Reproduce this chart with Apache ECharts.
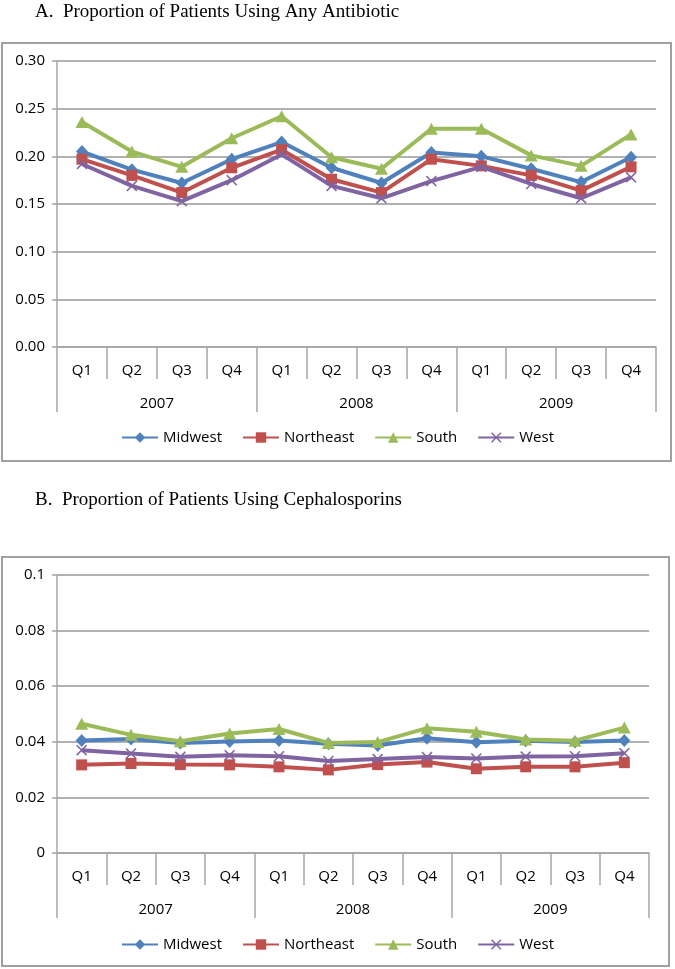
<!DOCTYPE html>
<html>
<head>
<meta charset="utf-8">
<script src="https://cdn.jsdelivr.net/npm/echarts@6/dist/echarts.min.js"></script>
<style>
html,body{margin:0;padding:0;background:#fff;}
#c{width:675px;height:969px;}
</style>
</head>
<body>
<div id="c"></div>
<script>
var quarters = ['Q1','Q2','Q3','Q4','Q1','Q2','Q3','Q4','Q1','Q2','Q3','Q4'];
var years = ['2007','2008','2009'];
var regions = ['Midwest','Northeast','South','West'];

// Panel A: Proportion of patients using any antibiotic
var antiMidwest   = [0.205,0.186,0.172,0.197,0.215,0.188,0.172,0.204,0.200,0.187,0.173,0.199];
var antiNortheast = [0.197,0.180,0.162,0.188,0.207,0.176,0.162,0.197,0.190,0.180,0.164,0.189];
var antiSouth     = [0.236,0.205,0.189,0.219,0.242,0.199,0.187,0.229,0.229,0.201,0.190,0.223];
var antiWest      = [0.192,0.169,0.153,0.175,0.202,0.169,0.156,0.174,0.189,0.171,0.156,0.178];

// Panel B: Proportion of patients using cephalosporins
var cephMidwest   = [0.0405,0.0410,0.0396,0.0401,0.0405,0.0393,0.0387,0.0413,0.0398,0.0404,0.0399,0.0405];
var cephNortheast = [0.0317,0.0322,0.0318,0.0317,0.0310,0.0299,0.0318,0.0327,0.0303,0.0310,0.0310,0.0325];
var cephSouth     = [0.0465,0.0425,0.0402,0.0430,0.0446,0.0396,0.0399,0.0449,0.0436,0.0408,0.0404,0.0451];
var cephWest      = [0.0370,0.0358,0.0346,0.0352,0.0348,0.0331,0.0338,0.0345,0.0340,0.0347,0.0348,0.0359];

var titleA = 'A.  Proportion of Patients Using Any Antibiotic';
var titleB = 'B.  Proportion of Patients Using Cephalosporins';

var colors = ['#4F81BD','#C0504D','#9BBB59','#8064A2'];
var xPath = 'path://M1,0 L5,4 L9,0 L10,1 L6,5 L10,9 L9,10 L5,6 L1,10 L0,9 L4,5 L0,1 Z';
var symbols = ['diamond','rect','triangle',xPath];
var symSizes = [[12,13],[11,11],[13,12],[11,11]];
var FONT = 'Open Sans';
var GRAY = '#a6a6a6';
var GRID = '#979797';

var chart = echarts.init(document.getElementById('c'), null, {renderer:'canvas'});

function xAxesFor(gi){
  return [
    {type:'category', gridIndex:gi, data:quarters, boundaryGap:true,
     axisLine:{show:true,lineStyle:{color:GRAY,width:1.5}},
     axisTick:{show:true,interval:0,length:32,lineStyle:{color:GRAY,width:1.5}},
     axisLabel:{interval:0,margin:16,color:'#000',fontFamily:FONT,fontSize:15}},
    {type:'category', gridIndex:gi, data:years, boundaryGap:true, position:'bottom',
     axisLine:{show:false},
     axisTick:{show:true,interval:0,length:65,lineStyle:{color:GRAY,width:1.5}},
     axisLabel:{interval:0,margin:49,color:'#000',fontFamily:FONT,fontSize:15}}
  ];
}

function seriesFor(gi, arrs){
  return arrs.map(function(d,i){
    return {
      name:regions[i] + (gi ? ' ' : ''), type:'line', xAxisIndex:gi*2, yAxisIndex:gi, data:d,
      symbol:symbols[i], symbolSize:symSizes[i], showSymbol:true,
      lineStyle:{color:colors[i],width:4},
      itemStyle:{color:colors[i]},
      z: 2 + i,
      animation:false
    };
  });
}

var legendBase = {left:'center',itemWidth:36,itemHeight:13,itemGap:20,
  textStyle:{fontFamily:FONT,fontSize:15,color:'#000'},
  formatter:function(n){return n.trim();}};

var option = {
  animation:false,
  backgroundColor:'#fff',
  title:[
    {text:titleA,left:30,top:-2,textStyle:{fontFamily:'Liberation Serif',fontSize:19,fontWeight:'normal',color:'#000'}},
    {text:titleB,left:30,top:486,textStyle:{fontFamily:'Liberation Serif',fontSize:19,fontWeight:'normal',color:'#000'}}
  ],
  graphic:[
    {type:'rect',shape:{x:2,y:43,width:669,height:418},style:{fill:'none',stroke:'#a0a0a0',lineWidth:2},silent:true,z:-1},
    {type:'rect',shape:{x:2,y:557,width:667,height:409},style:{fill:'none',stroke:'#a0a0a0',lineWidth:2},silent:true,z:-1}
  ],
  legend:[
    Object.assign({}, legendBase, {data:regions, top:425}),
    Object.assign({}, legendBase, {data:regions.map(function(r){return r+' ';}), top:932})
  ],
  grid:[
    {left:57,top:61,width:599,height:286},
    {left:57,top:575,width:592,height:278}
  ],
  xAxis:xAxesFor(0).concat(xAxesFor(1)),
  yAxis:[
    {type:'value',gridIndex:0,min:0,max:0.3,interval:0.05,
     axisLine:{show:true,lineStyle:{color:GRAY,width:1.5}},
     axisTick:{show:true,length:5,lineStyle:{color:GRAY,width:1.5}},
     axisLabel:{margin:12,color:'#000',fontFamily:FONT,fontSize:15,formatter:function(v){return v.toFixed(2);}},
     splitLine:{show:true,lineStyle:{color:GRID,width:1.5}}},
    {type:'value',gridIndex:1,min:0,max:0.1,interval:0.02,
     axisLine:{show:true,lineStyle:{color:GRAY,width:1.5}},
     axisTick:{show:true,length:5,lineStyle:{color:GRAY,width:1.5}},
     axisLabel:{margin:12,color:'#000',fontFamily:FONT,fontSize:15,formatter:function(v){return String(+v.toFixed(2));}},
     splitLine:{show:true,lineStyle:{color:GRID,width:1.5}}}
  ],
  series: seriesFor(0,[antiMidwest,antiNortheast,antiSouth,antiWest])
          .concat(seriesFor(1,[cephMidwest,cephNortheast,cephSouth,cephWest]))
};
chart.setOption(option);
</script>
</body>
</html>
